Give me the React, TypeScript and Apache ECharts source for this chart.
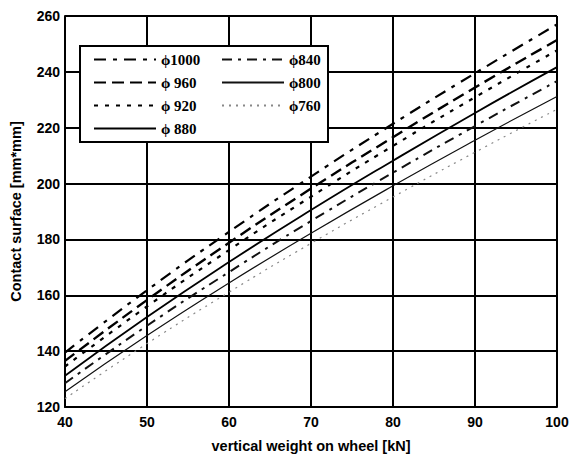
import React, { useEffect, useRef } from "react";
import * as echarts from "echarts";

const weights = [40, 50, 60, 70, 80, 90, 100];
const d1000 = [139.5, 161.8, 182.7, 202.5, 221.4, 239.5, 257.0];
const d960 = [136.5, 158.3, 178.8, 198.2, 216.6, 234.4, 251.4];
const d920 = [134.5, 156.0, 176.2, 195.3, 213.5, 230.9, 247.7];
const d880 = [131.2, 152.2, 171.9, 190.5, 208.2, 225.3, 241.7];
const d840 = [128.5, 149.1, 168.3, 186.6, 203.9, 220.6, 236.7];
const d800 = [125.5, 145.6, 164.4, 182.2, 199.2, 215.5, 231.2];
const d760 = [123.0, 142.7, 161.1, 178.6, 195.2, 211.2, 226.6];

const names = ["ϕ1000", "ϕ 960", "ϕ 920", "ϕ 880", "ϕ840", "ϕ800", "ϕ760"];
const seriesData = [d1000, d960, d920, d880, d840, d800, d760];
const styles: any[] = [
  { type: [12, 7, 4, 7], width: 2.2, color: "#000" },
  { type: [12, 6], width: 2.4, color: "#000" },
  { type: [4, 7], width: 2.2, color: "#000" },
  { type: "solid", width: 1.8, color: "#000" },
  { type: [10, 6, 3, 6], width: 2, color: "#111" },
  { type: "solid", width: 1.2, color: "#111" },
  { type: [2, 5], width: 1.2, color: "#888" },
];

export default function App() {
  const ref = useRef<HTMLDivElement>(null);
  useEffect(() => {
    const chart = echarts.init(ref.current!, null, { renderer: "svg" });
    const legendText = {
      fontFamily: "Liberation Serif",
      fontWeight: "bold",
      fontSize: 15,
      color: "#000",
    };
    const legendCommon = {
      orient: "vertical",
      top: 47,
      itemWidth: 62,
      itemHeight: 14,
      itemGap: 8,
      textStyle: legendText,
      itemStyle: { opacity: 0 },
      z: 10,
    };
    const labelFont = { fontFamily: "Liberation Sans", fontWeight: "bold", fontSize: 14, color: "#000" };
    const nameFont = { fontFamily: "Liberation Sans", fontWeight: "bold", fontSize: 14.5, color: "#000" };
    chart.setOption({
      animation: false,
      backgroundColor: "#fff",
      grid: { left: 62, right: 19, top: 16, bottom: 48 },
      xAxis: {
        type: "value",
        min: 40,
        max: 100,
        interval: 10,
        name: "vertical weight on wheel [kN]",
        nameLocation: "middle",
        nameGap: 31,
        nameTextStyle: nameFont,
        axisLine: { lineStyle: { color: "#000", width: 2 } },
        axisTick: { show: false },
        axisLabel: { ...labelFont, margin: 8 },
        splitLine: { show: true, lineStyle: { color: "#000", width: 2 } },
      },
      yAxis: {
        type: "value",
        min: 120,
        max: 260,
        interval: 20,
        name: "Contact surface [mm*mm]",
        nameLocation: "middle",
        nameGap: 42,
        nameTextStyle: nameFont,
        axisLine: { show: true, lineStyle: { color: "#000", width: 2 } },
        axisTick: { show: false },
        axisLabel: { ...labelFont, margin: 5 },
        splitLine: { show: true, lineStyle: { color: "#000", width: 2 } },
      },
      graphic: [
        {
          type: "rect",
          shape: { x: 80, y: 46, width: 248, height: 96 },
          style: { fill: "#fff", stroke: "#000", lineWidth: 2 },
          z: 5,
        },
      ],
      legend: [
        { ...legendCommon, data: names.slice(0, 4), left: 88 },
        { ...legendCommon, data: names.slice(4), left: 216 },
      ],
      series: names.map((n, i) => ({
        name: n,
        type: "line",
        data: weights.map((w, j) => [w, seriesData[i][j]]),
        smooth: true,
        symbol: "none",
        lineStyle: styles[i],
        itemStyle: { color: styles[i].color },
        z: 3,
      })),
    });
    return () => chart.dispose();
  }, []);
  return (
    <div
      ref={ref}
      style={{ width: 576, height: 458, position: "fixed", left: 0, top: 0 }}
    />
  );
}
